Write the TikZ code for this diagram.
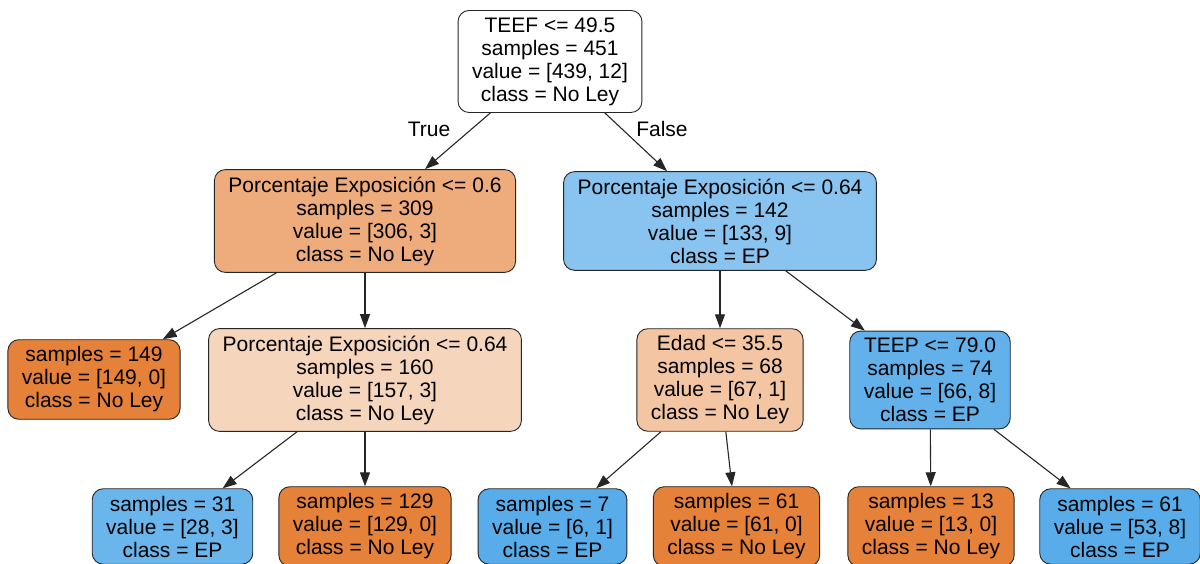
\documentclass[tikz,border=0pt]{standalone}
\usepackage{fontspec}
\setmainfont{Liberation Sans}
\usetikzlibrary{arrows.meta}

\definecolor{leafor}{HTML}{E58139}
\definecolor{midor}{HTML}{EEAB7B}
\definecolor{paleor}{HTML}{F6D5BD}
\definecolor{lightor}{HTML}{F3C5A3}
\definecolor{lightbl}{HTML}{88C4EF}
\definecolor{midbl}{HTML}{62B1EB}
\definecolor{bl31}{HTML}{6AB6EC}
\definecolor{deepbl}{HTML}{57ACE9}

\begin{document}
\begin{tikzpicture}[x=1pt,y=1pt,>={Triangle[length=14pt,width=10pt]},
    font=\fontsize{21}{23}\selectfont,
    tnode/.style={draw=black!85,line width=0.9pt,rounded corners=11pt,
      align=center,inner xsep=14pt,inner ysep=7pt},
    edge/.style={->,line width=1.1pt,black!85}]
  \useasboundingbox (0,0) rectangle (1200,564);

  % root
  \node[tnode,fill=white] (root) at (550,502.5)
    {TEEF <= 49.5\\samples = 451\\value = [439, 12]\\class = No Ley};

  % first split
  \node[tnode,fill=midor] (pexa) at (365,343)
    {Porcentaje Exposición <= 0.6\\samples = 309\\value = [306, 3]\\class = No Ley};
  \node[tnode,fill=lightbl] (pexb) at (720,343)
    {Porcentaje Exposición <= 0.64\\samples = 142\\value = [133, 9]\\class = EP};

  % second split
  \node[tnode,fill=leafor] (leafa) at (94,184.5)
    {samples = 149\\value = [149, 0]\\class = No Ley};
  \node[tnode,fill=paleor] (pexc) at (365,184)
    {Porcentaje Exposición <= 0.64\\samples = 160\\value = [157, 3]\\class = No Ley};
  \node[tnode,fill=lightor] (edad) at (720,184)
    {Edad <= 35.5\\samples = 68\\value = [67, 1]\\class = No Ley};
  \node[tnode,fill=midbl] (teep) at (930,184)
    {TEEP <= 79.0\\samples = 74\\value = [66, 8]\\class = EP};

  % leaves
  \node[tnode,fill=bl31] (leafb) at (172.5,37.5)
    {samples = 31\\value = [28, 3]\\class = EP};
  \node[tnode,fill=leafor] (leafc) at (365,37.5)
    {samples = 129\\value = [129, 0]\\class = No Ley};
  \node[tnode,fill=deepbl] (leafd) at (552.5,37.5)
    {samples = 7\\value = [6, 1]\\class = EP};
  \node[tnode,fill=leafor] (leafe) at (736.5,37.5)
    {samples = 61\\value = [61, 0]\\class = No Ley};
  \node[tnode,fill=leafor] (leaff) at (931,37.5)
    {samples = 13\\value = [13, 0]\\class = No Ley};
  \node[tnode,fill=deepbl] (leafg) at (1120,37.5)
    {samples = 61\\value = [53, 8]\\class = EP};

  \draw[edge] (root) -- (pexa);
  \draw[edge] (root) -- (pexb);
  \node (true) at (429,435) {True};
  \node (false) at (662,435) {False};

  \draw[edge] (pexa) -- (leafa);
  \draw[edge] (pexa) -- (pexc);
  \draw[edge] (pexb) -- (edad);
  \draw[edge] (pexb) -- (teep);

  \draw[edge] (pexc) -- (leafb);
  \draw[edge] (pexc) -- (leafc);
  \draw[edge] (edad) -- (leafd);
  \draw[edge] (edad) -- (leafe);
  \draw[edge] (teep) -- (leaff);
  \draw[edge] (teep) -- (leafg);
\end{tikzpicture}
\end{document}
